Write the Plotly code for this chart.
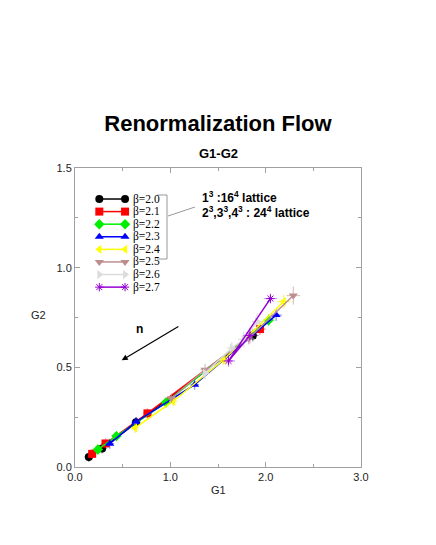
import plotly.graph_objects as go

# ---- data ----
betas = ["2.0", "2.1", "2.2", "2.3", "2.4", "2.5", "2.6", "2.7"]
g1_b20 = [1.865, 0.64, 0.285, 0.145]
g2_b20 = [0.660, 0.224, 0.093, 0.050]
g1_b21 = [1.94, 0.76, 0.32, 0.18]
g2_b21 = [0.692, 0.269, 0.118, 0.066]
g1_b22 = [2.03, 0.955, 0.435, 0.24]
g2_b22 = [0.736, 0.324, 0.155, 0.088]
g1_b23 = [2.11, 1.255, 0.64, 0.365]
g2_b23 = [0.762, 0.413, 0.226, 0.117]
g1_b24 = [2.19, 1.556, 1.03, 0.63]
g2_b24 = [0.830, 0.537, 0.330, 0.196]
g1_b25 = [2.29, 1.82, 1.364, 1.01]
g2_b25 = [0.860, 0.645, 0.488, 0.345]
g1_b26 = [1.91, 1.77, 1.645, 1.364]
g2_b26 = [0.730, 0.640, 0.597, 0.470]
g1_b27 = [2.05, 1.61, 1.835]
g2_b27 = [0.845, 0.532, 0.660]

ex_b20 = [0.06, 0.045, 0.045, 0.045]
ey_b20 = [0.03, 0.025, 0.025, 0.025]
ex_b21 = [0.06, 0.045, 0.045, 0.045]
ey_b21 = [0.03, 0.025, 0.025, 0.025]
ex_b22 = [0.06, 0.045, 0.045, 0.045]
ey_b22 = [0.03, 0.025, 0.025, 0.025]
ex_b23 = [0.06, 0.045, 0.045, 0.045]
ey_b23 = [0.03, 0.025, 0.025, 0.025]
ex_b24 = [0.07, 0.05, 0.045, 0.045]
ey_b24 = [0.035, 0.025, 0.025, 0.025]
ex_b25 = [0.07, 0.06, 0.05, 0.045]
ey_b25 = [0.045, 0.03, 0.03, 0.025]
ex_b26 = [0.06, 0.06, 0.05, 0.05]
ey_b26 = [0.04, 0.04, 0.03, 0.03]
ex_b27 = [0.07, 0.07, 0.07]
ey_b27 = [0.025, 0.03, 0.04]

series_g1 = [g1_b20, g1_b21, g1_b22, g1_b23, g1_b24, g1_b25, g1_b26, g1_b27]
series_g2 = [g2_b20, g2_b21, g2_b22, g2_b23, g2_b24, g2_b25, g2_b26, g2_b27]
series_ex = [ex_b20, ex_b21, ex_b22, ex_b23, ex_b24, ex_b25, ex_b26, ex_b27]
series_ey = [ey_b20, ey_b21, ey_b22, ey_b23, ey_b24, ey_b25, ey_b26, ey_b27]

colors = ["#000000", "#ff0000", "#00ee00", "#0000ff", "#ffff00", "#bc8f8f", "#dcdcdc", "#9400d3"]
err_colors = ["rgba(0,0,0,0.45)", "rgba(255,0,0,0.45)", "rgba(0,220,0,0.45)", "rgba(0,0,255,0.45)",
              "rgba(230,230,0,0.55)", "rgba(188,143,143,0.55)", "rgba(200,200,200,0.6)", "rgba(148,0,211,0.4)"]
symbols = ["circle", "square", "diamond", "triangle-up", "triangle-left", "triangle-down",
           "triangle-right", "asterisk-open"]

x_ticks = [0.0, 1.0, 2.0, 3.0]
y_ticks = [0.0, 0.5, 1.0, 1.5]

FONT = "Liberation Sans, Arial, Helvetica, sans-serif"
SERIF = "Liberation Serif, Times New Roman, serif"

# the page body has an 8px default margin; compensate so the plot area lands where the reference has it
OFF = 8


def marker_for(i, size):
    sym = symbols[i]
    if sym == "asterisk-open":
        return dict(symbol=sym, size=size - 1, color=colors[i], line=dict(color=colors[i], width=1))
    return dict(symbol=sym, size=size, color=colors[i])


fig = go.Figure()

for i, b in enumerate(betas):
    fig.add_trace(go.Scatter(
        x=series_g1[i], y=series_g2[i], mode="lines+markers",
        line=dict(color=colors[i], width=1.5),
        marker=marker_for(i, 8),
        error_x=dict(type="data", array=series_ex[i], color=err_colors[i], thickness=1.2, width=0),
        error_y=dict(type="data", array=series_ey[i], color=err_colors[i], thickness=1.2, width=0),
        name="β=" + b, showlegend=False,
    ))

# custom legend (markers at both ends of the sample line), on an overlay axis in plot fractions
leg_top = 0.8963
leg_step = 0.0421
leg_x0, leg_x1 = 0.085, 0.175
for i, b in enumerate(betas):
    yy = leg_top - i * leg_step
    fig.add_trace(go.Scatter(
        x=[leg_x0, leg_x1], y=[yy, yy], mode="lines+markers",
        line=dict(color=colors[i], width=1.5), marker=marker_for(i, 8),
        xaxis="x2", yaxis="y2", showlegend=False, hoverinfo="skip",
    ))
    fig.add_annotation(x=0.195, y=yy, xref="x2", yref="y2", text="β=" + b,
                       showarrow=False, xanchor="left", yanchor="middle",
                       font=dict(family=SERIF, size=11.5, color="#000"))

axis_common = dict(
    showgrid=False, zeroline=False, showline=True, linecolor="#a0a0a0", linewidth=1,
    mirror="allticks", ticks="inside", ticklen=5, tickcolor="#a0a0a0",
    tickfont=dict(family=FONT, size=11, color="#222"),
)
fig.update_layout(
    width=436, height=545,
    margin=dict(l=75 - OFF, r=75 + OFF, t=168 - OFF, b=78 + OFF),
    paper_bgcolor="white", plot_bgcolor="white",
    showlegend=False,
    title=dict(text="<b>Renormalization Flow</b>", x=(218 - OFF) / 436, xanchor="center",
               y=1 - (123 - OFF) / 545, yanchor="middle", yref="container",
               font=dict(family=FONT, size=22, color="#000")),
    xaxis=dict(range=[0, 3], tickvals=x_ticks, ticktext=[f"{v:.1f}" for v in x_ticks],
               minor=dict(dtick=0.5, ticks="inside", ticklen=3, tickcolor="#a0a0a0"),
               **axis_common),
    yaxis=dict(range=[0, 1.5], tickvals=y_ticks, ticktext=[f"{v:.1f}" for v in y_ticks],
               minor=dict(dtick=0.25, ticks="inside", ticklen=3, tickcolor="#a0a0a0"),
               **axis_common),
    xaxis2=dict(range=[0, 1], overlaying="x", visible=False, fixedrange=True),
    yaxis2=dict(range=[0, 1], overlaying="y", visible=False, fixedrange=True),
)

# subtitle and axis titles
fig.add_annotation(x=0.5, y=1 + 15 / 299, xref="paper", yref="paper", text="<b>G1-G2</b>",
                   showarrow=False, xanchor="center", yanchor="middle",
                   font=dict(family=FONT, size=13, color="#000"))
fig.add_annotation(x=0.5, y=-23 / 299, xref="paper", yref="paper", text="G1",
                   showarrow=False, xanchor="center", yanchor="middle",
                   font=dict(family=FONT, size=11, color="#222"))
fig.add_annotation(x=-37 / 286, y=(467 - 315) / 299, xref="paper", yref="paper", text="G2",
                   showarrow=False, xanchor="center", yanchor="middle",
                   font=dict(family=FONT, size=11, color="#222"))

# lattice annotations
fig.add_annotation(x=(200 - 75) / 286, y=(467 - 197) / 299, xref="paper", yref="paper",
                   text="<b>1<sup>3</sup> :16<sup>4</sup> lattice</b>", showarrow=False,
                   xanchor="left", yanchor="middle", font=dict(family=FONT, size=12, color="#000"))
fig.add_annotation(x=(200 - 75) / 286, y=(467 - 212) / 299, xref="paper", yref="paper",
                   text="<b>2<sup>3</sup>,3<sup>3</sup>,4<sup>3</sup> : 24<sup>4</sup> lattice</b>",
                   showarrow=False, xanchor="left", yanchor="middle",
                   font=dict(family=FONT, size=12, color="#000"))


# bracket around legend entries and connector
def px(xp):
    return (xp - 75) / 286


def py(yp):
    return (467 - yp) / 299


for (xa, ya, xb, yb) in [(157, 195, 167, 195), (167, 195, 167, 259), (157, 259, 167, 259),
                         (168, 216, 195, 207)]:
    fig.add_shape(type="line", xref="paper", yref="paper", x0=px(xa), y0=py(ya), x1=px(xb), y1=py(yb),
                  line=dict(color="#999999", width=1))

# flow arrow "n"
fig.add_annotation(x=0.49, y=0.535, ax=1.10, ay=0.709, xref="x", yref="y", axref="x", ayref="y",
                   text="", showarrow=True, arrowhead=2, arrowsize=1, arrowwidth=1.2, arrowcolor="#000")
fig.add_annotation(x=0.68, y=0.69, xref="x", yref="y", text="<b>n</b>", showarrow=False,
                   font=dict(family=FONT, size=12, color="#000"))

fig.write_html("out.html")
